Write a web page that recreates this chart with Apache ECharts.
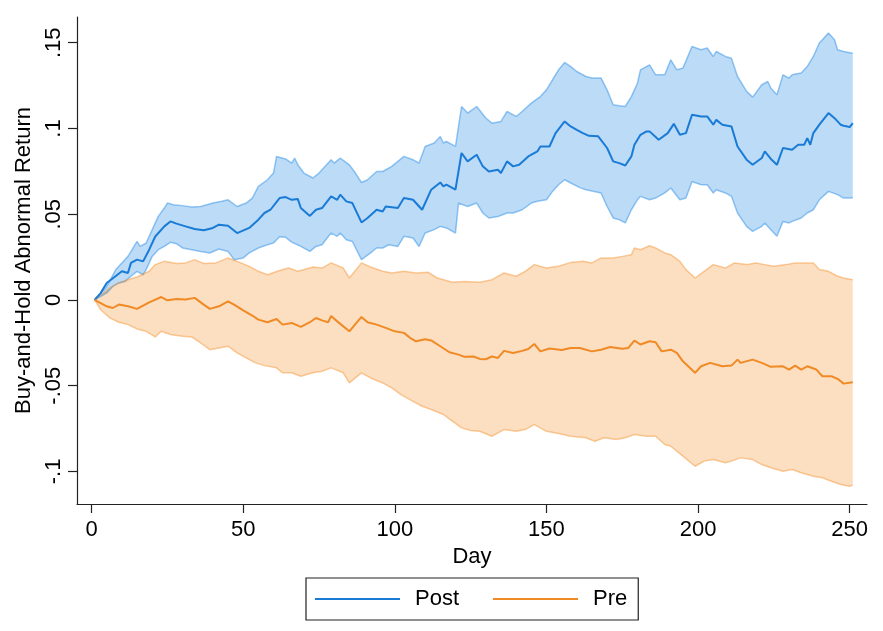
<!DOCTYPE html>
<html>
<head>
<meta charset="utf-8">
<script src="https://cdn.jsdelivr.net/npm/echarts@6/dist/echarts.min.js"></script>
<style>
html,body{margin:0;padding:0;background:#fff;}
#chart{width:883px;height:631px;}
</style>
</head>
<body>
<div id="chart"></div>
<script>
// ---- data: [day, value] ----
const postMean = [[1,0],[3,0.004],[5,0.0099],[8,0.014],[10,0.0167],[12,0.0157],[13,0.0216],[15,0.0235],[17,0.0225],[19,0.0293],[21,0.037],[24,0.0429],[26,0.0458],[28,0.0445],[31,0.0429],[34,0.0414],[37,0.0406],[40,0.042],[42,0.0439],[45,0.0433],[48,0.039],[52,0.042],[55,0.0468],[57,0.0507],[59,0.0526],[62,0.0594],[64,0.06],[66,0.0584],[68,0.0589],[69,0.0536],[72,0.049],[74,0.0526],[76,0.0536],[79,0.0604],[81,0.0584],[82,0.0614],[84,0.0575],[86,0.0565],[89,0.0452],[91,0.0478],[94,0.0526],[96,0.0516],[97,0.0545],[101,0.0536],[103,0.0594],[106,0.0584],[109,0.0526],[112,0.0643],[115,0.0685],[116,0.0662],[117,0.0672],[120,0.0643],[122,0.0857],[124,0.0808],[127,0.0847],[129,0.0779],[131,0.0749],[134,0.0759],[135,0.074],[137,0.0808],[139,0.0779],[141,0.0788],[144,0.0837],[147,0.0866],[148,0.0895],[151,0.0895],[153,0.0973],[156,0.1041],[158,0.1012],[160,0.0992],[162,0.0973],[164,0.0957],[167,0.0955],[170,0.0886],[172,0.0808],[174,0.0798],[176,0.0784],[178,0.0837],[179,0.0905],[181,0.0963],[183,0.0983],[184,0.0983],[187,0.0934],[190,0.0973],[192,0.1027],[194,0.0963],[196,0.0973],[198,0.108],[201,0.107],[203,0.107],[205,0.1022],[206,0.105],[208,0.1022],[211,0.1012],[213,0.0895],[216,0.0818],[218,0.0788],[221,0.0828],[222,0.0866],[224,0.0822],[226,0.0788],[228,0.0886],[231,0.0876],[233,0.0905],[235,0.0905],[236,0.0944],[237,0.0905],[238,0.0973],[240,0.1022],[243,0.109],[245,0.106],[247,0.1022],[248,0.1016],[250,0.1008],[251,0.1031]];
const postUpper = [[1,0],[5,0.0079],[8,0.0177],[10,0.0216],[12,0.0254],[15,0.0341],[16,0.0312],[18,0.0332],[20,0.041],[22,0.0487],[24,0.0536],[25,0.0565],[27,0.0555],[30,0.055],[33,0.0542],[36,0.0545],[40,0.0565],[43,0.0575],[45,0.0584],[48,0.0545],[51,0.0565],[53,0.0594],[55,0.0662],[58,0.0701],[60,0.074],[61,0.0837],[64,0.0822],[66,0.0798],[67,0.0827],[68,0.0788],[70,0.074],[73,0.0711],[75,0.074],[79,0.0818],[80,0.0798],[82,0.0827],[85,0.0788],[87,0.074],[89,0.0685],[91,0.0701],[94,0.0749],[96,0.0749],[99,0.0779],[103,0.0837],[106,0.0818],[108,0.0798],[110,0.0895],[113,0.0915],[115,0.0953],[116,0.0915],[117,0.0924],[120,0.0895],[122,0.1128],[124,0.109],[127,0.1128],[130,0.1061],[132,0.1031],[135,0.1041],[137,0.1099],[140,0.107],[142,0.1099],[145,0.1148],[148,0.1186],[150,0.1225],[152,0.1284],[154,0.1342],[156,0.1385],[158,0.1361],[160,0.1332],[163,0.1303],[165,0.1294],[168,0.1294],[170,0.1225],[172,0.1138],[174,0.1132],[176,0.1128],[178,0.1186],[180,0.1264],[181,0.1342],[184,0.1371],[186,0.1313],[189,0.1313],[191,0.14],[193,0.1342],[195,0.1352],[198,0.1478],[201,0.1459],[203,0.1469],[205,0.142],[206,0.1449],[209,0.142],[211,0.141],[213,0.1303],[216,0.1216],[218,0.1183],[221,0.1255],[223,0.1274],[224,0.1235],[226,0.1196],[228,0.1313],[230,0.1294],[231,0.1313],[234,0.1323],[236,0.1361],[238,0.142],[240,0.1498],[243,0.1556],[245,0.1517],[246,0.1459],[248,0.1449],[251,0.1439]];
const postLower = [[1,0],[5,0.0041],[7,0.0079],[9,0.0099],[11,0.0108],[13,0.0138],[15,0.0167],[17,0.0147],[18,0.0177],[20,0.0254],[22,0.0293],[24,0.0312],[26,0.0336],[28,0.0328],[30,0.0303],[33,0.0293],[36,0.0283],[39,0.0274],[42,0.0297],[45,0.0283],[47,0.0235],[50,0.0245],[52,0.0274],[55,0.0303],[58,0.0322],[60,0.0332],[62,0.0369],[64,0.0365],[66,0.0337],[69,0.0312],[72,0.0283],[74,0.0312],[76,0.0322],[79,0.039],[81,0.0371],[82,0.039],[84,0.0351],[86,0.0341],[89,0.0235],[92,0.0274],[94,0.0303],[96,0.0303],[98,0.0322],[101,0.0312],[103,0.0371],[106,0.0361],[108,0.0312],[110,0.039],[113,0.041],[115,0.0429],[117,0.042],[120,0.039],[121,0.0565],[124,0.0545],[127,0.0565],[129,0.0507],[131,0.0478],[134,0.0487],[137,0.0507],[139,0.0507],[142,0.0526],[145,0.0565],[147,0.0575],[150,0.0584],[152,0.0633],[154,0.0672],[156,0.0701],[158,0.0682],[161,0.0655],[163,0.0643],[165,0.0635],[168,0.0624],[170,0.0545],[172,0.0478],[174,0.0468],[176,0.0449],[178,0.0526],[180,0.0584],[181,0.0604],[184,0.0584],[186,0.0594],[189,0.0624],[191,0.0653],[194,0.0584],[196,0.0594],[198,0.0691],[201,0.0672],[203,0.0672],[205,0.0624],[206,0.0643],[209,0.0624],[211,0.0604],[213,0.0507],[216,0.0429],[218,0.04],[221,0.0429],[222,0.0449],[224,0.041],[226,0.0371],[228,0.0458],[230,0.0449],[231,0.0458],[234,0.0478],[236,0.0507],[238,0.0526],[240,0.0584],[243,0.0633],[246,0.0614],[248,0.0594],[251,0.0594]];
const preMean = [[1,0],[5,-0.0037],[7,-0.0047],[9,-0.0027],[12,-0.0037],[15,-0.0052],[19,-0.0014],[23,0.0017],[25,-0.0002],[28,0.0006],[31,0.0002],[34,0.0012],[37,-0.0027],[39,-0.0052],[42,-0.0037],[45,-0.0008],[47,-0.0027],[50,-0.0061],[53,-0.0091],[55,-0.0115],[58,-0.013],[61,-0.0111],[63,-0.0144],[66,-0.0134],[69,-0.0157],[72,-0.013],[74,-0.0105],[76,-0.0119],[78,-0.013],[79,-0.0094],[81,-0.0125],[85,-0.0183],[89,-0.0099],[91,-0.013],[94,-0.0144],[97,-0.0163],[100,-0.0183],[103,-0.0192],[105,-0.0221],[107,-0.0241],[110,-0.0229],[112,-0.0236],[115,-0.027],[118,-0.0305],[121,-0.0319],[123,-0.0332],[126,-0.033],[128,-0.0344],[130,-0.0346],[132,-0.033],[134,-0.0338],[136,-0.0297],[139,-0.0309],[142,-0.0297],[144,-0.0286],[146,-0.0257],[148,-0.03],[151,-0.0283],[155,-0.0292],[158,-0.028],[161,-0.028],[165,-0.03],[168,-0.029],[171,-0.0274],[175,-0.0284],[177,-0.028],[179,-0.0237],[181,-0.026],[184,-0.0241],[186,-0.0247],[188,-0.03],[191,-0.029],[193,-0.0309],[195,-0.0358],[199,-0.0425],[201,-0.0387],[204,-0.0367],[208,-0.0387],[211,-0.0383],[213,-0.0348],[214,-0.0367],[218,-0.0348],[221,-0.0367],[224,-0.039],[228,-0.0387],[230,-0.0406],[232,-0.0383],[234,-0.0406],[236,-0.0387],[239,-0.0406],[241,-0.0445],[244,-0.0445],[246,-0.046],[248,-0.0488],[251,-0.048]];
const preUpper = [[1,0],[4,0.0041],[6,0.007],[9,0.0099],[12,0.0118],[15,0.0134],[19,0.0167],[21,0.0206],[24,0.0225],[28,0.0212],[31,0.0216],[34,0.0235],[37,0.0212],[41,0.0216],[45,0.0245],[48,0.0225],[52,0.0196],[55,0.0167],[58,0.0147],[62,0.0172],[65,0.0186],[68,0.0167],[73,0.0192],[76,0.0186],[79,0.0216],[83,0.0186],[85,0.0128],[89,0.0216],[92,0.0192],[96,0.0167],[99,0.0157],[103,0.0167],[107,0.0157],[111,0.0161],[114,0.0128],[119,0.0103],[123,0.0108],[128,0.0103],[132,0.0118],[136,0.0157],[140,0.0138],[143,0.0167],[146,0.0206],[150,0.0186],[154,0.0196],[158,0.0219],[162,0.0225],[165,0.0216],[168,0.0245],[172,0.0245],[175,0.0254],[178,0.0264],[179,0.0303],[181,0.0293],[184,0.0316],[186,0.0303],[189,0.0274],[191,0.0264],[194,0.0225],[196,0.0177],[199,0.0128],[202,0.0167],[205,0.0206],[209,0.0186],[212,0.0216],[216,0.0206],[219,0.0216],[222,0.0206],[225,0.0196],[229,0.0206],[232,0.0216],[235,0.0216],[238,0.0216],[240,0.0177],[243,0.0167],[246,0.0138],[248,0.0128],[251,0.0118]];
const preLower = [[1,0],[3,-0.0057],[6,-0.0105],[9,-0.013],[12,-0.0144],[15,-0.0169],[18,-0.0183],[21,-0.0216],[23,-0.0183],[26,-0.0202],[30,-0.0212],[33,-0.0216],[36,-0.0251],[39,-0.029],[42,-0.028],[45,-0.027],[48,-0.0309],[51,-0.0338],[54,-0.0367],[57,-0.0383],[61,-0.0396],[63,-0.0425],[66,-0.0425],[69,-0.0445],[73,-0.0425],[76,-0.0416],[79,-0.0396],[83,-0.0425],[85,-0.0484],[89,-0.0425],[92,-0.0455],[96,-0.0484],[99,-0.0513],[102,-0.0552],[106,-0.0591],[109,-0.062],[112,-0.0639],[116,-0.0668],[119,-0.0707],[122,-0.0746],[125,-0.0761],[128,-0.0766],[132,-0.0795],[136,-0.0756],[140,-0.0766],[143,-0.0756],[146,-0.0727],[150,-0.0766],[154,-0.0779],[158,-0.0795],[163,-0.0804],[166,-0.0824],[169,-0.0804],[173,-0.0814],[176,-0.0804],[179,-0.0785],[183,-0.0795],[186,-0.0795],[189,-0.0843],[191,-0.0853],[195,-0.0911],[199,-0.097],[202,-0.094],[205,-0.0931],[209,-0.095],[211,-0.094],[214,-0.0921],[218,-0.0931],[221,-0.096],[224,-0.0979],[228,-0.0999],[231,-0.0989],[234,-0.1008],[238,-0.1028],[241,-0.1037],[244,-0.1057],[247,-0.1076],[250,-0.1086],[251,-0.108]];
const xTicks = [0, 50, 100, 150, 200, 250];
const yTicks = [-0.1, -0.05, 0, 0.05, 0.1, 0.15];
const yTickLabels = ['-.1', '-.05', '0', '.05', '.1', '.15'];

const FONT = 'Liberation Sans, Arial, Helvetica, sans-serif';
const AXIS = '#222';
const POST_COLOR = '#1a7bd6';
const PRE_COLOR = '#ef8a25';

function band(name, upper, lower, fill) {
  return {
    type: 'custom', name: name, silent: true, z: 1,
    coordinateSystem: 'cartesian2d',
    data: [upper[0]],
    renderItem: function (params, api) {
      const pts = upper.map(p => api.coord(p))
        .concat(lower.slice().reverse().map(p => api.coord(p)));
      return { type: 'polygon', shape: { points: pts }, style: { fill: fill } };
    }
  };
}
function edge(name, data, color, z) {
  return { type: 'line', name: name, data: data, symbol: 'none', silent: true, z: z,
    lineStyle: { color: color, width: 1.5 } };
}

const chart = echarts.init(document.getElementById('chart'), null, { renderer: 'canvas' });
chart.setOption({
  animation: false,
  backgroundColor: '#fff',
  textStyle: { fontFamily: FONT },
  grid: { left: 77, right: 16, top: 17, bottom: 127, containLabel: false },
  xAxis: {
    type: 'value', min: -4.8, max: 255.7,
    name: 'Day', nameLocation: 'middle', nameGap: 32,
    nameTextStyle: { fontSize: 22, color: '#000', fontFamily: FONT },
    axisLine: { show: true, onZero: false, lineStyle: { color: AXIS, width: 1.2 } },
    axisTick: { show: true, length: 9, customValues: xTicks, lineStyle: { color: AXIS, width: 1.2 } },
    axisLabel: { customValues: xTicks, fontSize: 22, color: '#000', margin: 15, fontFamily: FONT },
    splitLine: { show: false }
  },
  yAxis: {
    type: 'value', min: -0.119, max: 0.165,
    name: 'Buy-and-Hold Abnormal Return', nameLocation: 'middle', nameGap: 36,
    nameTextStyle: { fontSize: 22, color: '#000', fontFamily: FONT },
    axisLine: { show: true, onZero: false, lineStyle: { color: AXIS, width: 1.2 } },
    axisTick: { show: true, length: 9, customValues: yTicks, lineStyle: { color: AXIS, width: 1.2 } },
    axisLabel: {
      customValues: yTicks, rotate: 90, fontSize: 22, color: '#000', margin: 12, fontFamily: FONT,
      formatter: function (v) {
        const i = yTicks.findIndex(t => Math.abs(t - v) < 1e-9);
        return i >= 0 ? yTickLabels[i] : '';
      }
    },
    splitLine: { show: false }
  },
  legend: {
    data: [{ name: 'Post', icon: 'rect' }, { name: 'Pre', icon: 'rect' }],
    left: 306, top: 578, orient: 'horizontal',
    selectedMode: false, itemWidth: 85, itemHeight: 2, itemGap: 34,
    padding: [10, 11, 10, 9], borderColor: '#222', borderWidth: 1.2,
    textStyle: { fontSize: 22, color: '#000', fontFamily: FONT, padding: [0, 0, 0, 10] }
  },
  series: [
    band('Post band', postUpper, postLower, 'rgba(30,136,229,0.3)'),
    band('Pre band', preUpper, preLower, 'rgba(245,145,45,0.3)'),
    edge('Post upper', postUpper, 'rgba(30,136,229,0.45)', 2),
    edge('Post lower', postLower, 'rgba(30,136,229,0.45)', 2),
    edge('Pre upper', preUpper, 'rgba(245,145,45,0.45)', 2),
    edge('Pre lower', preLower, 'rgba(245,145,45,0.45)', 2),
    { type: 'line', name: 'Post', data: postMean, symbol: 'none', z: 3,
      itemStyle: { color: POST_COLOR }, lineStyle: { color: POST_COLOR, width: 2 } },
    { type: 'line', name: 'Pre', data: preMean, symbol: 'none', z: 3,
      itemStyle: { color: PRE_COLOR }, lineStyle: { color: PRE_COLOR, width: 2 } }
  ]
});
</script>
</body>
</html>
